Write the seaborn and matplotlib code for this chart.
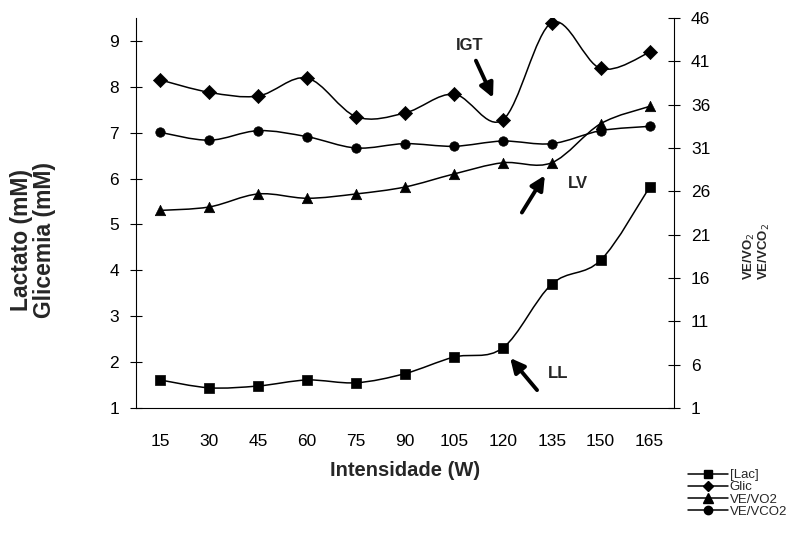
import numpy as np
import matplotlib
matplotlib.use("Agg")
import matplotlib.pyplot as plt
from matplotlib.path import Path
from matplotlib.patches import PathPatch
from matplotlib.lines import Line2D
import seaborn as sns
import pandas as pd

# ---- data ----
intensidade = [15, 30, 45, 60, 75, 90, 105, 120, 135, 150, 165]
lac = [1.61, 1.44, 1.48, 1.61, 1.55, 1.75, 2.11, 2.31, 3.70, 4.22, 5.81]
glic = [8.15, 7.88, 7.80, 8.19, 7.35, 7.43, 7.84, 7.28, 9.40, 8.40, 8.75]
ve_vo2 = [23.8, 24.2, 25.7, 25.2, 25.7, 26.5, 28.0, 29.3, 29.3, 33.8, 35.8]
ve_vco2 = [32.8, 31.9, 33.0, 32.3, 31.0, 31.5, 31.2, 31.8, 31.5, 33.0, 33.5]
left_ticks = [1, 2, 3, 4, 5, 6, 7, 8, 9]
right_ticks = [1, 6, 11, 16, 21, 26, 31, 36, 41, 46]
legend_labels = ["[Lac]", "Glic", "VE/VO2", "VE/VCO2"]

sns.set_style("white")
plt.rcParams['font.family'] = ['Liberation Sans', 'DejaVu Sans']

W, H = 810, 545
fig = plt.figure(figsize=(W / 100, H / 100), dpi=100)
ax = fig.add_axes([136 / W, 1 - 408 / H, 538 / W, 390 / H])
ax2 = ax.twinx()

xpos = list(range(len(intensidade)))


def smooth_path(xs, ys):
    """Excel-like smoothed line as cubic Bezier path through the data points."""
    pts = list(zip(xs, ys))
    n = len(pts)
    verts = [pts[0]]
    codes = [Path.MOVETO]
    for i in range(n - 1):
        p0 = pts[i - 1] if i > 0 else pts[i]
        p1 = pts[i]
        p2 = pts[i + 1]
        p3 = pts[i + 2] if i + 2 < n else pts[i + 1]
        c1 = (p1[0] + (p2[0] - p0[0]) / 6, p1[1] + (p2[1] - p0[1]) / 6)
        c2 = (p2[0] - (p3[0] - p1[0]) / 6, p2[1] - (p3[1] - p1[1]) / 6)
        verts += [c1, c2, p2]
        codes += [Path.CURVE4] * 3
    return Path(verts, codes)


series = [
    (ax, lac, 's', 7.0),
    (ax, glic, 'D', 7.2),
    (ax2, ve_vo2, '^', 7.5),
    (ax2, ve_vco2, 'o', 6.8),
]
for a, vals, mk, ms in series:
    a.add_patch(PathPatch(smooth_path(xpos, vals), facecolor='none',
                          edgecolor='black', lw=1.1, zorder=2))
    df = pd.DataFrame({'x': xpos, 'y': vals})
    sns.scatterplot(data=df, x='x', y='y', ax=a, marker=mk, s=ms ** 2,
                    color='black', edgecolor='black', linewidth=0.5,
                    zorder=3, legend=False)

# axes limits / ticks
ax.set_xlim(-0.5, len(intensidade) - 0.5)
ax.set_ylim(1, 9.5)
ax2.set_ylim(1, 46)
ax.set_yticks(left_ticks)
ax2.set_yticks(right_ticks)
ax.set_xticks(xpos)
ax.set_xticklabels([str(v) for v in intensidade])
ax.set_xticks(np.arange(-0.5, len(intensidade), 1.0), minor=True)

ax.tick_params(axis='x', which='major', length=0, pad=19, labelsize=12.5, colors='black')
ax.tick_params(axis='x', which='minor', length=8.5, direction='inout', width=0.8, color='black')
ax.tick_params(axis='y', which='major', length=8.5, direction='inout', width=0.8,
               pad=8, labelsize=12.5, colors='black')
ax2.tick_params(axis='y', which='major', length=8.5, direction='inout', width=0.8,
                pad=8, labelsize=12.5, colors='black')

ax.set_xlabel("")
ax.set_ylabel("")
ax2.set_ylabel("")
for a in (ax, ax2):
    a.spines['top'].set_visible(False)
    for s in ('left', 'right', 'bottom'):
        a.spines[s].set_color('black')
        a.spines[s].set_linewidth(0.8)
ax.spines['right'].set_visible(False)
ax2.spines['left'].set_visible(False)
ax2.spines['bottom'].set_visible(False)

# axis titles
fig.text(405 / W, 1 - 470 / H, "Intensidade (W)", ha='center', va='center',
         fontsize=14.5, fontweight='bold')
fig.text(33 / W, 1 - 240 / H, "Lactato (mM)\nGlicemia (mM)", ha='center', va='center',
         rotation=90, fontsize=16.5, fontweight='bold', multialignment='center',
         linespacing=1.0)
fig.text(757 / W, 1 - 251 / H, "VE/VO$_2$\nVE/VCO$_2$", ha='center', va='center',
         rotation=90, fontsize=9.5, fontweight='bold', multialignment='left',
         linespacing=1.0)


# annotations (positions in left-axis data coordinates)
def arrow(tip, tail):
    ax.annotate('', xy=tip, xytext=tail, xycoords='data', textcoords='data',
                arrowprops=dict(arrowstyle='-|>,head_length=0.85,head_width=0.42',
                                lw=2.8, color='black', shrinkA=0, shrinkB=0),
                annotation_clip=False)


arrow((6.80, 7.76), (6.45, 8.57))
ax.text(6.33, 8.91, "IGT", ha='center', va='center', fontsize=12, fontweight='bold')
arrow((7.86, 6.07), (7.39, 5.26))
ax.text(8.54, 5.89, "LV", ha='center', va='center', fontsize=12, fontweight='bold')
arrow((7.15, 2.09), (7.70, 1.39))
ax.text(8.13, 1.76, "LL", ha='center', va='center', fontsize=12, fontweight='bold')

# legend
markers = ['s', 'D', '^', 'o']
msizes = [5.5, 5.5, 6.5, 6]
handles = [Line2D([], [], color='black', lw=1.1, marker=m, markersize=s)
           for m, s in zip(markers, msizes)]
fig.legend(handles, legend_labels, loc='upper left',
           bbox_to_anchor=(688 / W, 1 - 469 / H), frameon=False,
           fontsize=9.5, handlelength=3.0, handletextpad=0.15, labelspacing=0.0,
           borderpad=0, borderaxespad=0)

fig.savefig("out.png", dpi=100)
